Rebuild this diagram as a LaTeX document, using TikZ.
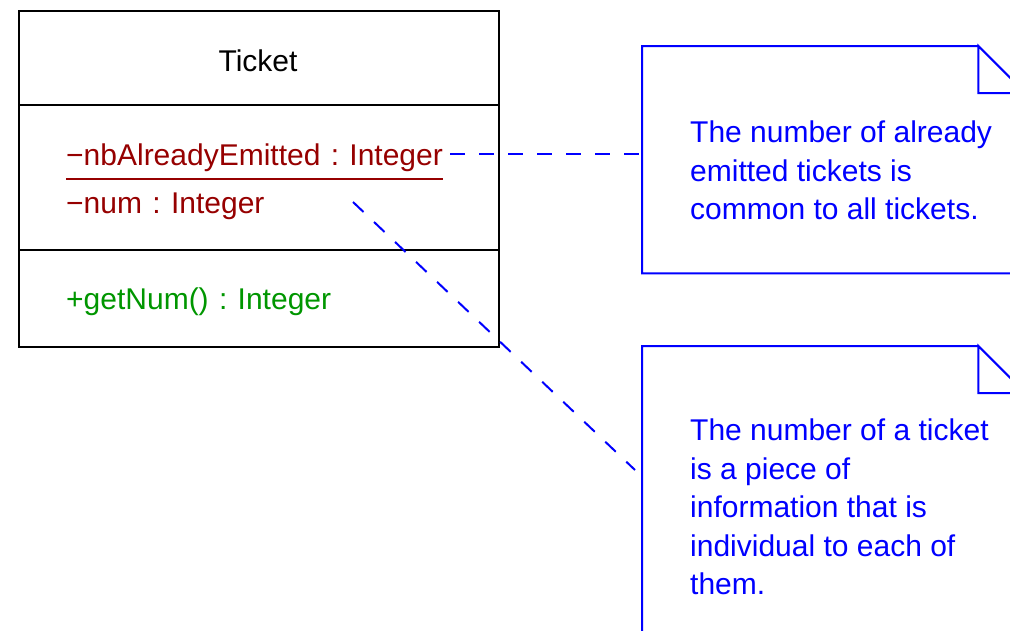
\documentclass[tikz,border=0pt]{standalone}
\usepackage{fontspec}
\setmainfont{Liberation Sans}
\usetikzlibrary{calc}
\definecolor{attrred}{RGB}{150,0,0}
\definecolor{opgreen}{RGB}{0,150,0}
\definecolor{noteblue}{RGB}{0,0,255}
\begin{document}
\frenchspacing
\begin{tikzpicture}[x=1pt,y=-1pt,
  txt/.style={inner sep=0pt,font=\fontsize{30}{38.5}\selectfont\frenchspacing},
  classline/.style={draw=black,line width=2pt},
  noteline/.style={draw=noteblue,line width=2pt},
  notetext/.style={txt,text=noteblue,align=left,anchor=north west},
  link/.style={draw=noteblue,line width=2pt,dash pattern=on 14.5pt off 14.5pt},
  box/.style={draw=none,inner sep=0pt,minimum width=383pt,anchor=north west}]
\useasboundingbox (0,0) rectangle (1010,630);
\clip (0,0) rectangle (1010,630);
% class box
\node[box,minimum width=480pt,minimum height=336pt,classline,line width=2pt] (cls) at (18,10) {};
\draw[classline] (18,105) -- (498,105);
\draw[classline] (18,250) -- (498,250);
\node[txt,anchor=base] (name) at (258,71) {Ticket};
\node[txt,anchor=base west,text=attrred] (a1) at (66,165) {−nbAlreadyEmitted\hspace{2pt} : \hspace{2pt}Integer};
\draw[attrred,line width=1.5pt] (a1.base west |- 0,179) -- (a1.base east |- 0,179);
\node[txt,anchor=base west,text=attrred] (a2) at (66,213) {−num\hspace{2pt} : \hspace{2pt}Integer};
\node[txt,anchor=base west,text=opgreen] (op) at (66,309) {+getNum()\hspace{2pt} : \hspace{2pt}Integer};
% notes
\node[box,minimum height=227pt] (n1) at (642,46) {};
\draw[noteline] ($(n1.north east)+(-47,0)$) -- (n1.north west) -- (n1.south west) -- (n1.south east) -- ($(n1.north east)+(0,47)$) -- ($(n1.north east)+(-47,0)$) -- ($(n1.north east)+(-47,47)$) -- ($(n1.north east)+(0,47)$);
\node[notetext] (t1) at (690,121) {The number of already\\emitted tickets is\\common to all tickets.};
\node[box,minimum height=330pt] (n2) at (642,346) {};
\draw[noteline] ($(n2.north east)+(-47,0)$) -- (n2.north west) -- (n2.south west) -- (n2.south east) -- ($(n2.north east)+(0,47)$) -- ($(n2.north east)+(-47,0)$) -- ($(n2.north east)+(-47,47)$) -- ($(n2.north east)+(0,47)$);
\node[notetext] (t2) at (690,419) {The number of a ticket\\is a piece of\\information that is\\individual to each of\\them.};
% connectors
\coordinate (s1) at (450,154);
\coordinate (s2) at (353,202);
\coordinate (e2) at (635,470);
\draw[link] (s1) -- (s1 -| n1.west);
\draw[link] (s2) -- (e2);
\end{tikzpicture}
\end{document}
